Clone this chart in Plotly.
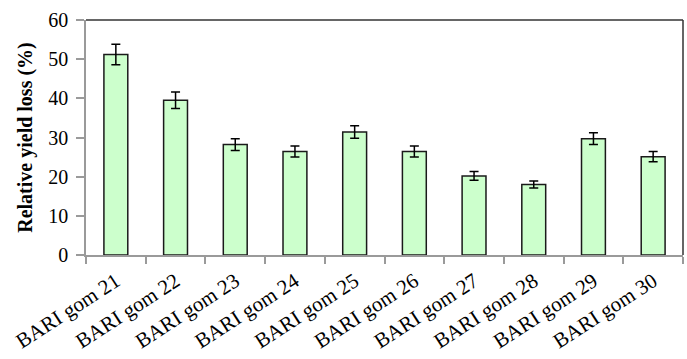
import plotly.graph_objects as go

# Wheat varieties and their relative yield loss (mean ± error)
varieties = ["BARI gom 21", "BARI gom 22", "BARI gom 23", "BARI gom 24", "BARI gom 25",
             "BARI gom 26", "BARI gom 27", "BARI gom 28", "BARI gom 29", "BARI gom 30"]
yield_loss = [51.2, 39.5, 28.2, 26.4, 31.4, 26.4, 20.2, 18.0, 29.7, 25.1]
error = [2.6, 2.1, 1.5, 1.4, 1.6, 1.4, 1.1, 0.9, 1.5, 1.3]
y_ticks = [0, 10, 20, 30, 40, 50, 60]

serif = "Liberation Serif"

fig = go.Figure(
    go.Bar(
        x=varieties,
        y=yield_loss,
        width=0.4,
        marker=dict(color="#ccffcc", line=dict(color="#1a1a1a", width=1.5)),
        error_y=dict(type="data", array=error, visible=True,
                     color="#000000", thickness=1.5, width=4.5),
    )
)

fig.update_layout(
    width=687, height=359,
    margin=dict(l=86, r=4, t=20, b=104),
    paper_bgcolor="white", plot_bgcolor="white",
    showlegend=False,
    font=dict(family=serif, size=19, color="#000000"),
    xaxis=dict(
        type="category",
        tickangle=-33,
        tickson="boundaries",
        ticks="outside", ticklen=7, tickcolor="#9a9a9a", tickwidth=1.5,
        showline=True, linecolor="#9a9a9a", linewidth=1.5,
        showgrid=False,
        ticklabelstandoff=4,
        tickfont=dict(family=serif, size=21),
    ),
    yaxis=dict(
        range=[0, 60],
        tickvals=y_ticks,
        ticks="outside", ticklen=8, tickcolor="#9a9a9a", tickwidth=1.5,
        showline=True, linecolor="#9a9a9a", linewidth=1.5,
        showgrid=False, zeroline=False,
        ticklabelstandoff=4,
        tickfont=dict(family=serif, size=20),
        title=dict(text="<b>Relative yield loss (%)</b>",
                   font=dict(family=serif, size=20), standoff=10),
    ),
    shapes=[
        dict(type="line", xref="paper", yref="paper", x0=0, x1=1, y0=1, y1=1,
             line=dict(color="#333333", width=1.5)),
        dict(type="line", xref="paper", yref="paper", x0=1, x1=1, y0=0, y1=1,
             line=dict(color="#333333", width=1.5)),
    ],
)

fig.write_html("out.html")
